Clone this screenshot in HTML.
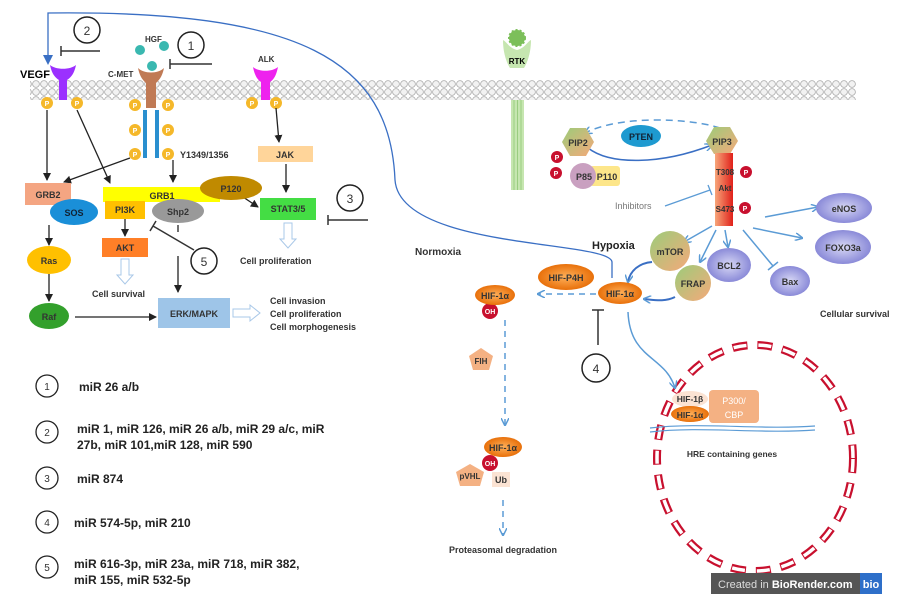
<!DOCTYPE html>
<html><head><meta charset="utf-8"><style>
html,body{margin:0;padding:0;background:#fff;}
svg{display:block;font-family:"Liberation Sans",Arial,sans-serif;}
.b{font-weight:bold;}
</style></head><body>
<svg width="915" height="603" viewBox="0 0 915 603" xmlns="http://www.w3.org/2000/svg">
<defs>
<marker id="ak" markerWidth="8" markerHeight="8" refX="7" refY="4" orient="auto" markerUnits="userSpaceOnUse"><path d="M0,0 L8,4 L0,8 z" fill="#222"/></marker>
<marker id="ab" markerWidth="8" markerHeight="8" refX="7" refY="4" orient="auto" markerUnits="userSpaceOnUse"><path d="M0,0 L8,4 L0,8" fill="none" stroke="#5b9bd5" stroke-width="1.5"/></marker>
<pattern id="mem" width="8" height="8" patternUnits="userSpaceOnUse"><circle cx="4" cy="4" r="3.4" fill="#f2f2f2" stroke="#aaa" stroke-width="0.8"/></pattern>
<linearGradient id="akt" x1="0" x2="1"><stop offset="0" stop-color="#f7a67a"/><stop offset="1" stop-color="#e0201a"/></linearGradient>
<linearGradient id="gr" x1="0" x2="1" y1="0" y2="1"><stop offset="0" stop-color="#9ccc7a"/><stop offset="1" stop-color="#f5a97a"/></linearGradient>
<radialGradient id="lav"><stop offset="0" stop-color="#d8d8f5"/><stop offset="1" stop-color="#8a8ad8"/></radialGradient>
<radialGradient id="org"><stop offset="0" stop-color="#ffb05a"/><stop offset="1" stop-color="#e8700a"/></radialGradient>
</defs>

<rect x="30" y="80" width="826" height="20" fill="url(#mem)"/>

<!-- RTK -->
<path d="M503,40 C503,55 508,65 510,68 L524,68 C526,65 531,55 531,40 C527,42 525,48 517,50 C509,48 507,42 503,40 z" fill="#c6e6b0"/>
<circle cx="517" cy="38" r="8" fill="#7cbf5a" stroke="#7cbf5a" stroke-width="2" stroke-dasharray="2,2"/>
<text x="517" y="64" font-size="8" text-anchor="middle" class="b">RTK</text>
<rect x="511" y="100" width="13" height="90" fill="#c6e6b0"/>
<path d="M514,100 V190 M517.5,100 V190 M521,100 V190" stroke="#9acd80" stroke-width="1"/>

<path d="M48,62 V13 C 300,10 390,60 395,180 C 400,250 610,240 612,262 V278" fill="none" stroke="#3a6fc4" stroke-width="1.3"/>
<path d="M43,55 L48,65 L53,55 z" fill="#3a6fc4"/>

<!-- receptors -->
<path d="M50,65 C52,75 56,78 59,80 L59,100 L67,100 L67,80 C70,78 74,75 76,65 C70,70 56,70 50,65 z" fill="#9b30ff"/>
<text x="20" y="78" font-size="11" class="b">VEGF</text>
<path d="M138,68 C140,78 144,81 146,83 L146,108 L156,108 L156,83 C158,81 162,78 164,68 C158,74 144,74 138,68 z" fill="#c07a55"/>
<text x="108" y="77" font-size="8" class="b" fill="#333">C-MET</text>
<text x="145" y="42" font-size="8" class="b" fill="#333">HGF</text>
<circle cx="140" cy="50" r="5" fill="#3ab8b0"/><circle cx="164" cy="46" r="5" fill="#3ab8b0"/><circle cx="152" cy="66" r="5" fill="#3ab8b0"/>
<path d="M253,67 C255,77 258,80 261,82 L261,100 L270,100 L270,82 C273,80 276,77 278,67 C272,72 259,72 253,67 z" fill="#ee22ee"/>
<text x="258" y="62" font-size="8" class="b" fill="#333">ALK</text>
<rect x="143" y="110" width="4" height="48" fill="#2a8fcf"/><rect x="155" y="110" width="4" height="48" fill="#2a8fcf"/>
<g fill="#f5b82a">
<circle cx="47" cy="103" r="6"/><circle cx="77" cy="103" r="6"/>
<circle cx="135" cy="105" r="6"/><circle cx="168" cy="105" r="6"/>
<circle cx="135" cy="130" r="6"/><circle cx="168" cy="130" r="6"/>
<circle cx="135" cy="154" r="6"/><circle cx="168" cy="154" r="6"/>
<circle cx="252" cy="103" r="6"/><circle cx="276" cy="103" r="6"/>
</g>
<g font-size="7" fill="#fff" text-anchor="middle" class="b">
<text x="47" y="106">P</text><text x="77" y="106">P</text><text x="135" y="108">P</text><text x="168" y="108">P</text><text x="135" y="133">P</text><text x="168" y="133">P</text><text x="135" y="157">P</text><text x="168" y="157">P</text><text x="252" y="106">P</text><text x="276" y="106">P</text>
</g>
<text x="180" y="158" font-size="9" class="b" fill="#333">Y1349/1356</text>

<g fill="none" stroke="#222" stroke-width="1.5">
<circle cx="87" cy="30" r="13"/><circle cx="191" cy="45" r="13"/><circle cx="350" cy="198" r="13"/><circle cx="204" cy="261" r="13"/><circle cx="596" cy="368" r="14"/>
</g>
<g font-size="12" text-anchor="middle" fill="#333"><text x="87" y="35">2</text><text x="191" y="50">1</text><text x="350" y="203">3</text><text x="204" y="266">5</text><text x="596" y="373">4</text></g>
<g stroke="#333" stroke-width="1.5">
<path d="M100,51 H61 M61,46 V56"/>
<path d="M212,64 H170 M170,59 V69"/>
<path d="M368,220 H328 M328,215 V225"/>
<path d="M194,250 L153,226 M150,231 L156,221"/>
<path d="M598,345 V310 M592,310 H604"/>
</g>

<g stroke="#222" stroke-width="1.3" fill="none" marker-end="url(#ak)">
<path d="M47,110 V180"/><path d="M77,110 L110,183"/><path d="M130,158 L64,182"/><path d="M173,160 V182"/>
<path d="M276,108 L279,142"/><path d="M286,164 V192"/><path d="M240,195 L258,207"/>
<path d="M49,225 V245"/><path d="M49,274 V301"/><path d="M125,218 V236"/>
<path d="M178,256 V292"/><path d="M75,317 H156"/>
</g>
<path d="M178,225 V232" stroke="#222" stroke-width="1.3"/>

<rect x="258" y="146" width="55" height="16" fill="#ffd59a"/><text x="285" y="158" font-size="9" class="b" text-anchor="middle" fill="#333">JAK</text>
<rect x="25" y="183" width="46" height="22" fill="#f4a582"/><text x="48" y="198" font-size="9" class="b" text-anchor="middle" fill="#333">GRB2</text>
<ellipse cx="74" cy="212" rx="24" ry="13" fill="#1a8fd8"/><text x="74" y="216" font-size="9" class="b" text-anchor="middle" fill="#123">SOS</text>
<rect x="103" y="187" width="117" height="15" fill="#ffff00"/><text x="162" y="199" font-size="9" class="b" text-anchor="middle" fill="#333">GRB1</text>
<ellipse cx="231" cy="188" rx="31" ry="12" fill="#c08a00"/><text x="231" y="192" font-size="9" class="b" text-anchor="middle" fill="#333">P120</text>
<rect x="105" y="201" width="40" height="18" fill="#ffc000"/><text x="125" y="213" font-size="9" class="b" text-anchor="middle" fill="#333">PI3K</text>
<ellipse cx="178" cy="211" rx="26" ry="12" fill="#999"/><text x="178" y="215" font-size="9" class="b" text-anchor="middle" fill="#333">Shp2</text>
<rect x="260" y="198" width="56" height="22" fill="#44dd44"/><text x="288" y="212" font-size="9" class="b" text-anchor="middle" fill="#333">STAT3/5</text>
<ellipse cx="49" cy="260" rx="22" ry="14" fill="#ffc000"/><text x="49" y="264" font-size="9" class="b" text-anchor="middle" fill="#333">Ras</text>
<ellipse cx="49" cy="316" rx="20" ry="13" fill="#33a02c"/><text x="49" y="320" font-size="9" class="b" text-anchor="middle" fill="#333">Raf</text>
<rect x="102" y="238" width="46" height="19" fill="#ff7f27"/><text x="125" y="251" font-size="9" class="b" text-anchor="middle" fill="#333">AKT</text>
<rect x="158" y="298" width="72" height="30" fill="#9ec5e8"/><text x="194" y="317" font-size="9" class="b" text-anchor="middle" fill="#333">ERK/MAPK</text>
<g fill="#fff" stroke="#a9c8e8" stroke-width="1">
<path d="M121,259 V275 H117 L125,284 L133,275 H129 V259 z"/>
<path d="M284,223 V239 H280 L288,248 L296,239 H292 V223 z"/>
<path d="M233,309 H250 V305 L260,313 L250,321 V317 H233 z"/>
</g>
<g font-size="9" class="b" fill="#333">
<text x="92" y="297">Cell survival</text>
<text x="240" y="264">Cell proliferation</text>
<text x="270" y="304">Cell invasion</text><text x="270" y="317">Cell proliferation</text><text x="270" y="330">Cell morphogenesis</text>
</g>

<g fill="none" stroke="#222" stroke-width="1.3">
<circle cx="47" cy="386" r="11"/><circle cx="47" cy="432" r="11"/><circle cx="47" cy="478" r="11"/><circle cx="47" cy="522" r="11"/><circle cx="47" cy="567" r="11"/>
</g>
<g font-size="10" text-anchor="middle" fill="#333"><text x="47" y="390">1</text><text x="47" y="436">2</text><text x="47" y="482">3</text><text x="47" y="526">4</text><text x="47" y="571">5</text></g>
<g font-size="12" class="b" fill="#222">
<text x="79" y="391">miR 26 a/b</text>
<text x="77" y="433">miR 1, miR 126, miR 26 a/b, miR 29 a/c, miR</text>
<text x="77" y="449">27b, miR 101,miR 128, miR 590</text>
<text x="77" y="483">miR 874</text>
<text x="74" y="527">miR 574-5p, miR 210</text>
<text x="74" y="568">miR 616-3p, miR 23a, miR 718, miR 382,</text>
<text x="74" y="584">miR 155, miR 532-5p</text>
</g>

<path d="M720,128 C 690,118 620,115 585,133" fill="none" stroke="#5b9bd5" stroke-width="1.5" stroke-dasharray="7,5" marker-end="url(#ab)"/>
<path d="M588,148 C 610,165 660,165 712,145" fill="none" stroke="#3a6fc4" stroke-width="1.5" marker-end="url(#ab)"/>
<polygon points="562,142 570,128 586,128 594,142 586,156 570,156" fill="url(#gr)"/><text x="578" y="146" font-size="9" class="b" text-anchor="middle" fill="#333">PIP2</text>
<ellipse cx="641" cy="136" rx="20" ry="11" fill="#1e9ad0"/><text x="641" y="140" font-size="9" class="b" text-anchor="middle" fill="#123">PTEN</text>
<polygon points="706,141 714,127 730,127 738,141 730,154 714,154" fill="url(#gr)"/><text x="722" y="145" font-size="9" class="b" text-anchor="middle" fill="#333">PIP3</text>
<rect x="590" y="166" width="30" height="20" rx="3" fill="#fde68a"/>
<circle cx="583" cy="176" r="13" fill="#c9a0c0"/>
<text x="584" y="180" font-size="9" class="b" text-anchor="middle" fill="#333">P85</text><text x="607" y="180" font-size="9" class="b" text-anchor="middle" fill="#333">P110</text>
<g fill="#c8102e"><circle cx="557" cy="157" r="6"/><circle cx="556" cy="173" r="6"/><circle cx="746" cy="172" r="6"/><circle cx="745" cy="208" r="6"/><circle cx="490" cy="311" r="8"/><circle cx="490" cy="463" r="8"/></g>
<g font-size="7" fill="#fff" text-anchor="middle" class="b"><text x="557" y="160">P</text><text x="556" y="176">P</text><text x="746" y="175">P</text><text x="745" y="211">P</text><text x="490" y="314">OH</text><text x="490" y="466">OH</text></g>
<rect x="715" y="153" width="18" height="73" fill="url(#akt)"/>
<g font-size="8" class="b" fill="#333" text-anchor="middle"><text x="725" y="175">T308</text><text x="725" y="191">Akt</text><text x="725" y="212">S473</text></g>
<text x="615" y="209" font-size="9" fill="#777">Inhibitors</text>
<path d="M665,206 L710,190 M708,185 L712,195" stroke="#5b9bd5" stroke-width="1.3" fill="none"/>
<g stroke="#5b9bd5" stroke-width="1.5" fill="none" marker-end="url(#ab)">
<path d="M765,217 L818,207"/><path d="M753,228 L802,238"/><path d="M712,226 L684,242"/><path d="M716,230 L700,262"/>
<path d="M725,230 L728,247"/>
</g>
<path d="M743,230 L773,266 M768,270 L778,262" stroke="#5b9bd5" stroke-width="1.5" fill="none"/>
<ellipse cx="844" cy="208" rx="28" ry="15" fill="url(#lav)"/><text x="844" y="212" font-size="9" class="b" text-anchor="middle" fill="#333">eNOS</text>
<ellipse cx="843" cy="247" rx="28" ry="17" fill="url(#lav)"/><text x="843" y="251" font-size="9" class="b" text-anchor="middle" fill="#333">FOXO3a</text>
<ellipse cx="729" cy="265" rx="22" ry="17" fill="url(#lav)"/><text x="729" y="269" font-size="9" class="b" text-anchor="middle" fill="#333">BCL2</text>
<ellipse cx="790" cy="281" rx="20" ry="15" fill="url(#lav)"/><text x="790" y="285" font-size="9" class="b" text-anchor="middle" fill="#333">Bax</text>
<circle cx="670" cy="251" r="20" fill="url(#gr)"/><text x="670" y="255" font-size="9" class="b" text-anchor="middle" fill="#333">mTOR</text>
<circle cx="693" cy="283" r="18" fill="url(#gr)"/><text x="693" y="287" font-size="9" class="b" text-anchor="middle" fill="#333">FRAP</text>
<text x="820" y="317" font-size="9" class="b" fill="#333">Cellular survival</text>
<text x="592" y="249" font-size="11" class="b" fill="#222">Hypoxia</text>
<text x="415" y="255" font-size="10" class="b" fill="#333">Normoxia</text>
<g stroke="#3a6fc4" stroke-width="2" fill="none" marker-end="url(#ab)">
<path d="M652,262 C 640,263 630,270 628,282"/><path d="M675,297 C 665,302 655,300 644,299"/>
</g>
<ellipse cx="566" cy="277" rx="28" ry="13" fill="url(#org)"/><text x="566" y="281" font-size="9" class="b" text-anchor="middle" fill="#333">HIF-P4H</text>
<ellipse cx="620" cy="293" rx="22" ry="11" fill="url(#org)"/><text x="620" y="297" font-size="9" class="b" text-anchor="middle" fill="#333">HIF-1α</text>
<ellipse cx="495" cy="295" rx="20" ry="10" fill="url(#org)"/><text x="495" y="299" font-size="9" class="b" text-anchor="middle" fill="#333">HIF-1α</text>
<path d="M596,294 H538" stroke="#5b9bd5" stroke-width="1.5" stroke-dasharray="6,5" marker-end="url(#ab)"/>
<path d="M505,320 V425" stroke="#5b9bd5" stroke-width="1.5" stroke-dasharray="6,5" marker-end="url(#ab)"/>
<polygon points="481,348 493,356 489,370 473,370 469,356" fill="#f4b183"/><text x="481" y="364" font-size="8" class="b" text-anchor="middle" fill="#333">FIH</text>
<ellipse cx="503" cy="447" rx="19" ry="10" fill="url(#org)"/><text x="503" y="451" font-size="9" class="b" text-anchor="middle" fill="#333">HIF-1α</text>
<polygon points="470,464 484,472 480,486 460,486 456,472" fill="#f4b183"/><text x="470" y="479" font-size="8" class="b" text-anchor="middle" fill="#333">pVHL</text>
<rect x="492" y="472" width="18" height="15" fill="#fbe3d3"/><text x="501" y="483" font-size="9" class="b" text-anchor="middle" fill="#333">Ub</text>
<path d="M503,500 V535" stroke="#5b9bd5" stroke-width="1.5" stroke-dasharray="6,5" marker-end="url(#ab)"/>
<text x="503" y="553" font-size="9" class="b" text-anchor="middle" fill="#333">Proteasomal degradation</text>
<ellipse cx="755" cy="458" rx="98" ry="113" fill="none" stroke="#c8102e" stroke-width="8" stroke-dasharray="15,10"/>
<ellipse cx="755" cy="458" rx="98" ry="113" fill="none" stroke="#fff" stroke-width="3.5" stroke-dasharray="13,12" stroke-dashoffset="-1"/>
<path d="M628,312 C 630,360 665,355 675,388" fill="none" stroke="#5b9bd5" stroke-width="1.5" marker-end="url(#ab)"/>
<rect x="709" y="390" width="50" height="33" rx="4" fill="#f4b183"/>
<text x="734" y="404" font-size="9" text-anchor="middle" fill="#fff">P300/</text><text x="734" y="418" font-size="9" text-anchor="middle" fill="#fff">CBP</text>
<ellipse cx="690" cy="399" rx="18" ry="8" fill="#fbe3d3"/><text x="690" y="402" font-size="8.5" class="b" text-anchor="middle" fill="#333">HIF-1β</text>
<ellipse cx="690" cy="414" rx="19" ry="8" fill="url(#org)"/><text x="690" y="418" font-size="8.5" class="b" text-anchor="middle" fill="#333">HIF-1α</text>
<path d="M650,428 C 700,422 760,430 815,426 M650,432 C 700,426 760,434 815,430" stroke="#5b9bd5" stroke-width="1.2" fill="none"/>
<text x="732" y="457" font-size="8.5" class="b" text-anchor="middle" fill="#333">HRE containing genes</text>
<rect x="711" y="573" width="149" height="21" fill="#555"/><rect x="860" y="573" width="22" height="21" fill="#2e6fc9"/>
<text x="718" y="588" font-size="11" fill="#ddd">Created in <tspan font-weight="bold" fill="#fff">BioRender.com</tspan></text>
<text x="871" y="588" font-size="11" class="b" fill="#fff" text-anchor="middle">bio</text>
</svg>
</body></html>
